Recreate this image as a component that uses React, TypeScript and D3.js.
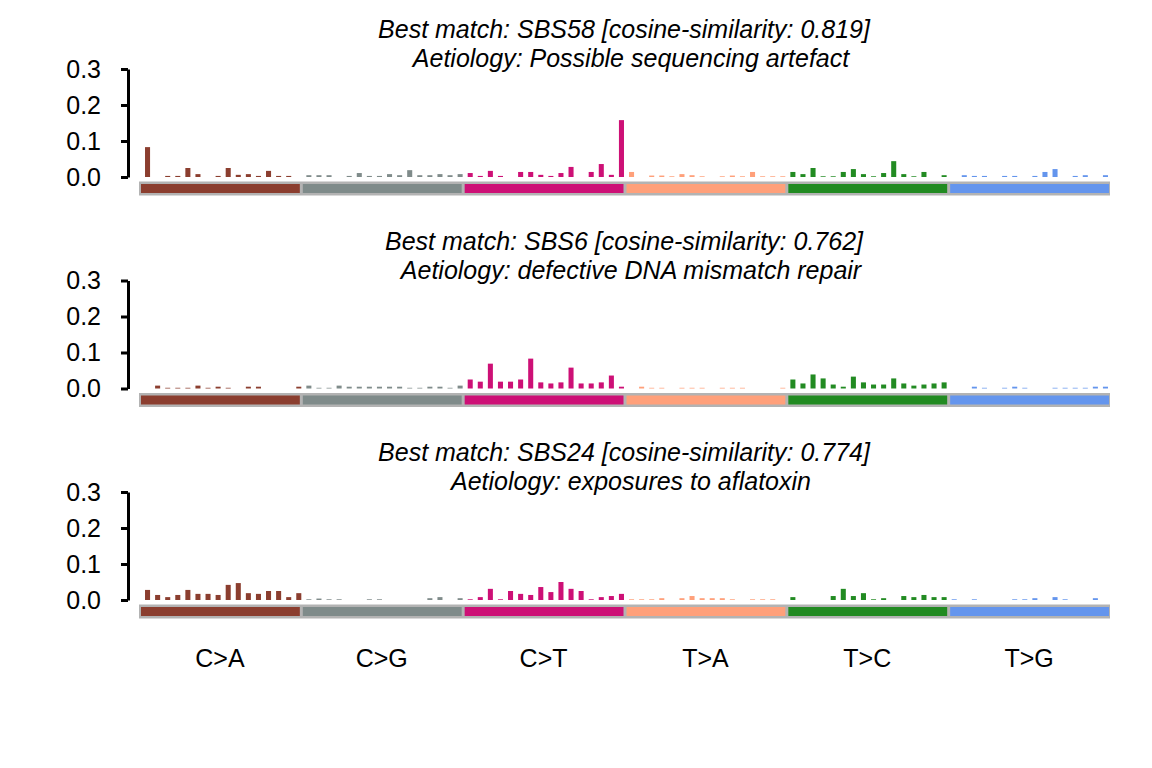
import React, { useRef, useEffect } from 'react';
import * as d3 from 'd3';

const mutationTypes = ['C>A', 'C>G', 'C>T', 'T>A', 'T>C', 'T>G'];
const typeColours = ['#8B3E2F', '#7F8B8A', '#CD1076', '#FFA07A', '#228B22', '#6495ED'];

const titles = [
  ['Best match: SBS58 [cosine-similarity: 0.819]', 'Aetiology: Possible sequencing artefact'],
  ['Best match: SBS6 [cosine-similarity: 0.762]', 'Aetiology: defective DNA mismatch repair'],
  ['Best match: SBS24 [cosine-similarity: 0.774]', 'Aetiology: exposures to aflatoxin'],
];

// 96 trinucleotide contexts, 16 per mutation type
const sbs58 = [
  0.083, 0, 0.003, 0.003, 0.025, 0.008, 0, 0.003, 0.025, 0.006, 0.008, 0.003, 0.017, 0.003, 0.003, 0,
  0.005, 0.005, 0.005, 0, 0.003, 0.011, 0.003, 0.003, 0.008, 0.005, 0.019, 0.005, 0.005, 0.008, 0.005, 0.008,
  0.011, 0.003, 0.017, 0.003, 0, 0.014, 0.014, 0.006, 0.003, 0.011, 0.028, 0, 0.014, 0.036, 0.006, 0.158,
  0.014, 0, 0.004, 0.004, 0.002, 0.008, 0.005, 0.002, 0, 0.002, 0.004, 0.002, 0.014, 0.002, 0.002, 0.002,
  0.014, 0.008, 0.025, 0.002, 0.002, 0.014, 0.022, 0.008, 0.002, 0.011, 0.044, 0.008, 0.002, 0.014, 0, 0.005,
  0, 0.005, 0.003, 0.003, 0, 0.003, 0.003, 0, 0.003, 0.014, 0.022, 0, 0.003, 0.005, 0, 0.005,
];

const sbs6 = [
  0, 0.008, 0.002, 0.002, 0.002, 0.008, 0.002, 0.005, 0.002, 0, 0.005, 0.005, 0, 0, 0, 0.005,
  0.008, 0.002, 0.002, 0.008, 0.005, 0.005, 0.005, 0.005, 0.005, 0.005, 0.002, 0.002, 0.005, 0.005, 0.002, 0.008,
  0.025, 0.019, 0.069, 0.019, 0.019, 0.025, 0.083, 0.017, 0.014, 0.017, 0.058, 0.014, 0.014, 0.017, 0.036, 0.005,
  0, 0.005, 0.002, 0.002, 0, 0.002, 0.002, 0.002, 0, 0.002, 0.002, 0.002, 0, 0, 0, 0.002,
  0.025, 0.014, 0.039, 0.028, 0.011, 0.005, 0.033, 0.017, 0.011, 0.011, 0.028, 0.014, 0.008, 0.011, 0.014, 0.017,
  0, 0, 0.005, 0.002, 0, 0.002, 0.005, 0.002, 0, 0, 0.002, 0.002, 0.002, 0.002, 0.005, 0.005,
];

const sbs24 = [
  0.028, 0.014, 0.008, 0.014, 0.028, 0.017, 0.017, 0.014, 0.042, 0.047, 0.019, 0.017, 0.025, 0.025, 0.008, 0.019,
  0.002, 0.004, 0.002, 0.002, 0, 0, 0.002, 0.002, 0, 0, 0, 0, 0.005, 0.008, 0, 0.005,
  0.002, 0.008, 0.031, 0.002, 0.025, 0.017, 0.014, 0.036, 0.022, 0.05, 0.031, 0.025, 0.002, 0.008, 0.011, 0.017,
  0.002, 0.002, 0.002, 0.005, 0, 0.005, 0.011, 0.005, 0.005, 0.005, 0.002, 0, 0.002, 0.002, 0.002, 0,
  0.008, 0, 0, 0, 0.011, 0.031, 0.011, 0.019, 0.002, 0.005, 0, 0.011, 0.008, 0.014, 0.008, 0.008,
  0.002, 0, 0.002, 0, 0, 0, 0.002, 0.002, 0.005, 0, 0.008, 0.002, 0, 0, 0.005, 0,
];

const panelValues = [sbs58, sbs6, sbs24];
const yTicks = [0, 0.1, 0.2, 0.3];

export default function App() {
  const svgRef = useRef<SVGSVGElement>(null);

  useEffect(() => {
    const width = 1152;
    const height = 768;
    const panelStep = 211.5;
    const font = '"Liberation Sans", Arial, Helvetica, sans-serif';
    const fontSize = 25;

    const svg = d3.select(svgRef.current);
    svg.selectAll('*').remove();
    svg.attr('width', width).attr('height', height).attr('viewBox', [0, 0, width, height])
      .style('font-family', font);

    const x = d3.scaleBand<number>()
      .domain(d3.range(96))
      .range([142.5, 1110.5])
      .paddingInner(0.5)
      .paddingOuter(0.25);

    const strip = d3.scaleBand<string>()
      .domain(mutationTypes)
      .range([139, 1110]);

    panelValues.forEach((values, p) => {
      const top = p * panelStep;
      const y = d3.scaleLinear().domain([0, 0.3]).range([top + 177, top + 69]);
      const g = svg.append('g');

      // titles
      g.append('text')
        .attr('x', 624).attr('y', top + 38)
        .attr('text-anchor', 'middle')
        .attr('font-size', fontSize).attr('font-style', 'italic')
        .text(titles[p][0]);
      g.append('text')
        .attr('x', 631).attr('y', top + 67)
        .attr('text-anchor', 'middle')
        .attr('font-size', fontSize).attr('font-style', 'italic')
        .text(titles[p][1]);

      // bars
      g.append('g')
        .selectAll('rect')
        .data(values)
        .join('rect')
        .attr('x', (d, i) => x(i)!)
        .attr('width', x.bandwidth())
        .attr('y', d => y(d))
        .attr('height', d => y(0) - y(d))
        .attr('fill', (d, i) => typeColours[Math.floor(i / 16)]);

      // mutation type strip
      g.append('rect')
        .attr('x', 139).attr('width', 971)
        .attr('y', top + 181.5).attr('height', 14)
        .attr('fill', '#b3b3b3');
      g.append('g')
        .selectAll('rect')
        .data(mutationTypes)
        .join('rect')
        .attr('x', d => strip(d)! + 2)
        .attr('width', strip.bandwidth() - 3)
        .attr('y', top + 184).attr('height', 9)
        .attr('fill', (d, i) => typeColours[i]);

      // y axis
      const axis = g.append('g')
        .attr('transform', 'translate(128,0)')
        .call(d3.axisLeft(y).tickValues(yTicks).tickFormat(d3.format('.1f')).tickSize(7).tickSizeOuter(0).tickPadding(20));
      axis.select('.domain').attr('stroke-width', 3).attr('stroke', '#000');
      axis.selectAll('.tick line').attr('stroke-width', 3);
      axis.selectAll('.tick text').attr('font-size', fontSize).attr('font-family', font).attr('fill', '#000');
    });

    // category labels
    svg.append('g')
      .selectAll('text')
      .data(mutationTypes)
      .join('text')
      .attr('x', d => strip(d)! + strip.bandwidth() / 2)
      .attr('y', 667)
      .attr('text-anchor', 'middle')
      .attr('font-size', fontSize)
      .text(d => d);
  }, []);

  return (
    <div style={{ margin: -8 }}>
      <svg ref={svgRef} style={{ display: 'block' }}></svg>
    </div>
  );
}
